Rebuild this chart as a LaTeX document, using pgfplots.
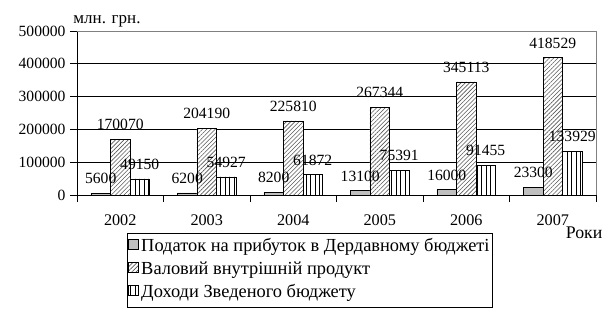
\documentclass[border=0pt]{standalone}
\usepackage{fontspec}
\setmainfont{Liberation Serif}
\usepackage{pgfplots}
\pgfplotsset{compat=1.18}
\usepackage{pgfplotstable}
\usetikzlibrary{patterns.meta}

\pgfplotstableread{
x y lab
0 5600 5600
1 6200 6200
2 8200 8200
3 13100 13100
4 16000 16000
5 23300 23300
}\taxdata
\pgfplotstableread{
x y lab
0 170070 170070
1 204190 204190
2 225810 225810
3 267344 267344
4 345113 345113
5 418529 418529
}\gdpdata
\pgfplotstableread{
x y lab
0 49150 49150
1 54927 54927
2 61872 61872
3 75391 75391
4 91455 91455
5 133929 133929
}\revdata

\pgfplotsset{
  sqleg/.style={legend image code/.code={\draw[##1, line width=0.5pt] (0pt,-2pt) rectangle (10pt,8pt);}},
  lbl/.style={ybar, bar width=19.5pt, bar shift=0pt, draw=none, fill=none, forget plot,
    point meta=explicit symbolic, nodes near coords,
    every node near coord/.append style={text=black, yshift=6pt, xshift=#1}},
}

\begin{document}
\begin{tikzpicture}[font=\fontsize{15.6}{18}\selectfont]
\useasboundingbox (0,0) rectangle (613pt,319pt);
\begin{axis}[
  at={(77pt,124pt)}, anchor=south west,
  width=519pt, height=164pt, scale only axis,
  xmin=-0.5, xmax=5.5, ymin=0, ymax=500000,
  xtick={-0.5,0.5,...,5.5}, x tick label as interval,
  xticklabels={2002,2003,2004,2005,2006,2007},
  ytick={0,100000,200000,300000,400000,500000},
  scaled y ticks=false,
  /pgf/number format/1000 sep={},
  /pgf/number format/assume math mode=true,
  y tick label style={/pgf/number format/fixed, xshift=-1pt},
  x tick label style={yshift=-9pt, font=\fontsize{16.2}{18}\selectfont},
  ymajorgrids, grid style={black, line width=0.8pt},
  axis x line*=bottom, axis y line*=left,
  axis line style={black, line width=0.8pt},
  tick style={black, line width=0.8pt},
  tick align=outside, major tick length=7pt,
  clip=false,
  legend style={at={(0.097,-0.233)}, anchor=north west, draw=black, line width=0.8pt,
    cells={anchor=west}, nodes={text height=12.5pt, text depth=4.5pt, inner sep=3pt},
    inner xsep=0pt, inner ysep=2.5pt, font=\fontsize{18.4}{22}\selectfont},
  legend cell align=left,
]
\addplot[ybar, bar width=19.5pt, bar shift=-19.5pt, draw=black, line width=0.6pt, fill=gray!50, sqleg]
  table[x=x,y=y] {\taxdata};
\addlegendentry{Податок на прибуток в Дердавному бюджеті}
\addplot[ybar, bar width=19.5pt, bar shift=0pt, draw=black, line width=0.6pt, fill=white,
  postaction={pattern={Lines[angle=45,distance=3pt,line width=0.6pt]}, pattern color=black!65}, sqleg]
  table[x=x,y=y] {\gdpdata};
\addlegendentry{Валовий внутрішній продукт}
\addplot[ybar, bar width=19.5pt, bar shift=19.5pt, draw=black, line width=0.6pt, fill=white,
  postaction={pattern={Lines[angle=90,distance=4.5pt,line width=0.6pt]}, pattern color=black}, sqleg]
  table[x=x,y=y] {\revdata};
\addlegendentry{Доходи Зведеного бюджету}

\addplot[lbl=-19.5pt] table[x=x,y=y,meta=lab] {\taxdata};
\addplot[lbl=0pt] table[x=x,y=y,meta=lab] {\gdpdata};
\addplot[lbl=19.5pt] table[x=x,y=y,meta=lab] {\revdata};

\draw[gray, line width=0.8pt] (rel axis cs:0,1) -- (rel axis cs:1,1) -- (rel axis cs:1,0);
\node[font=\fontsize{17}{20}\selectfont] at (rel axis cs:0.0578,1.058) {млн. грн.};
\node[font=\fontsize{17.8}{20}\selectfont] at (rel axis cs:0.977,-0.228) {Роки};
\end{axis}
\end{tikzpicture}
\end{document}
